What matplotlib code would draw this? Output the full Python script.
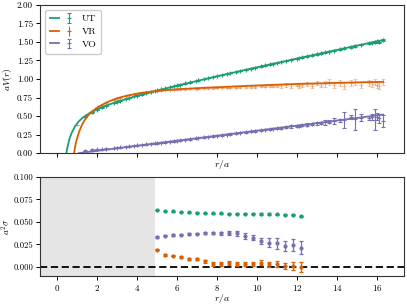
import matplotlib
matplotlib.use('Agg')
import matplotlib.pyplot as plt
from matplotlib.legend_handler import HandlerTuple

plt.rcParams.update({
    'font.family': 'serif',
    'font.serif': ['cmr10', 'DejaVu Serif'],
    'mathtext.fontset': 'cm',
    'axes.formatter.use_mathtext': True,
    'font.size': 6.5,
    'axes.linewidth': 0.8,
    'axes.edgecolor': '#333333',
    'xtick.direction': 'out',
    'ytick.direction': 'out',
    'xtick.major.size': 3,
    'ytick.major.size': 3,
    'xtick.major.width': 0.7,
    'ytick.major.width': 0.7,
})

GREEN = '#1b9e77'
ORANGE = '#d95f02'
PURPLE = '#7570b3'

# ---------------- top panel data ----------------
r_top = [1.0, 1.41, 1.73, 2.0, 2.24, 2.45, 2.83, 3.0, 3.16, 3.46, 3.61, 3.87, 4.0, 4.24,
         4.47, 4.69, 4.9, 5.0, 5.2, 5.39, 5.66, 5.83, 6.0, 6.16, 6.4, 6.63, 6.93, 7.07,
         7.35, 7.55, 7.81, 8.0, 8.25, 8.49, 8.66, 8.94, 9.17, 9.43, 9.7, 9.9, 10.2, 10.39,
         10.63, 10.82, 11.0, 11.2, 11.45, 11.7, 12.0, 12.12, 12.25, 12.5, 12.73, 13.0,
         13.2, 13.42, 13.6, 13.86, 14.14, 14.35, 14.7, 14.9, 15.2, 15.59, 15.75, 15.9,
         16.0, 16.1, 16.3]

ut_val = [0.375, 0.49, 0.548, 0.586, 0.617, 0.640, 0.678, 0.695, 0.709, 0.734, 0.746, 0.767,
          0.776, 0.793, 0.810, 0.826, 0.840, 0.847, 0.860, 0.873, 0.891, 0.902, 0.913, 0.925,
          0.940, 0.954, 0.973, 0.982, 1.000, 1.012, 1.027, 1.039, 1.054, 1.068, 1.079, 1.096,
          1.110, 1.125, 1.141, 1.153, 1.171, 1.183, 1.196, 1.207, 1.218, 1.229, 1.244, 1.259,
          1.276, 1.283, 1.291, 1.305, 1.319, 1.334, 1.346, 1.359, 1.370, 1.384, 1.400, 1.412,
          1.432, 1.443, 1.461, 1.483, 1.488, 1.500, 1.507, 1.495, 1.524]
ut_err = [0.003] * 30 + [0.004] * 20 + [0.006] * 10 + [0.009] * 9

vr_val = [0.38, 0.50, 0.57, 0.62, 0.64, 0.68, 0.72, 0.735, 0.75, 0.772, 0.782, 0.798,
          0.803, 0.812, 0.822, 0.830, 0.836, 0.842, 0.846, 0.850, 0.856, 0.858, 0.860, 0.862,
          0.864, 0.866, 0.868, 0.870, 0.872, 0.874, 0.876, 0.878, 0.880, 0.882, 0.884, 0.885,
          0.888, 0.890, 0.895, 0.892, 0.900, 0.898, 0.905, 0.902, 0.910, 0.905, 0.915, 0.908,
          0.925, 0.910, 0.920, 0.930, 0.905, 0.945, 0.915, 0.935, 0.960, 0.925, 0.950, 0.905,
          0.940, 0.960, 0.915, 0.945, 0.930, 0.960, 0.920, 0.900, 0.955]
vr_err = [0.004] * 20 + [0.006] * 15 + [0.012] * 10 + [0.025] * 10 + [0.04] * 14

vo_val = [0.035, 0.035, 0.045, 0.05, 0.055, 0.06, 0.07, 0.075, 0.08, 0.088, 0.092, 0.10,
          0.103, 0.11, 0.117, 0.124, 0.13, 0.133, 0.14, 0.146, 0.155, 0.161, 0.166, 0.172,
          0.18, 0.188, 0.198, 0.203, 0.212, 0.219, 0.228, 0.234, 0.243, 0.251, 0.257, 0.266,
          0.274, 0.283, 0.292, 0.299, 0.31, 0.316, 0.322, 0.33, 0.337, 0.343, 0.35, 0.36,
          0.365, 0.37, 0.375, 0.385, 0.39, 0.40, 0.41, 0.415, 0.42, 0.43, 0.44, 0.445,
          0.49, 0.455, 0.48, 0.47, 0.485, 0.45, 0.49, 0.47, 0.43]
vo_err = [0.005] * 30 + [0.008] * 15 + [0.015] * 10 + [0.03, 0.02, 0.04, 0.02, 0.11,
          0.03, 0.14, 0.05, 0.03, 0.04, 0.14, 0.05, 0.06, 0.08]

# fitted curves
ut_fit_r = [0.47, 0.52, 0.58, 0.65, 0.75, 0.9, 1.1, 1.3, 1.6, 2.0, 2.5, 3.0, 4.0, 5.0,
            6.0, 8.0, 10.0, 12.0, 14.0, 16.3]
ut_fit_v = [0.0, 0.07, 0.14, 0.21, 0.28, 0.36, 0.43, 0.48, 0.535, 0.59, 0.645, 0.692, 0.772,
            0.843, 0.910, 1.037, 1.158, 1.276, 1.393, 1.526]
vr_fit_r = [0.86, 0.9, 0.95, 1.0, 1.1, 1.25, 1.4, 1.6, 1.8, 2.1, 2.5, 3.0, 3.5, 4.15, 5.0,
            6.0, 7.5, 10.0, 12.0, 14.0, 16.3]
vr_fit_v = [0.0, 0.07, 0.14, 0.19, 0.28, 0.38, 0.45, 0.52, 0.57, 0.63, 0.685, 0.74, 0.775,
            0.81, 0.84, 0.862, 0.883, 0.913, 0.933, 0.948, 0.962]
vo_fit_r = [1.1, 2.0, 4.0, 6.0, 8.0, 10.0, 12.0, 14.0, 16.3]
vo_fit_v = [0.0, 0.03, 0.10, 0.167, 0.235, 0.303, 0.37, 0.44, 0.52]

# ---------------- bottom panel data ----------------
r_bot = [5.0, 5.4, 5.8, 6.2, 6.6, 7.0, 7.4, 7.8, 8.2, 8.6, 9.0, 9.4, 9.8, 10.2, 10.6,
         11.0, 11.4, 11.8, 12.2]
ut_sig = [0.0633, 0.0622, 0.0619, 0.0611, 0.0607, 0.0604, 0.0600, 0.0596, 0.0594, 0.0593,
          0.0592, 0.0590, 0.0589, 0.0588, 0.0588, 0.0587, 0.0582, 0.0580, 0.0561]
ut_sig_err = [0.0004, 0.0004, 0.0004, 0.0004, 0.0004, 0.0004, 0.0004, 0.0005, 0.0005,
              0.0005, 0.0005, 0.0005, 0.0005, 0.0006, 0.0006, 0.0006, 0.0007, 0.0008, 0.0009]
vo_sig = [0.0334, 0.0346, 0.0353, 0.0360, 0.0368, 0.0371, 0.0379, 0.0379, 0.0376, 0.0376,
          0.0376, 0.0342, 0.0327, 0.0293, 0.0271, 0.0264, 0.0234, 0.0245, 0.0215]
vo_sig_err = [0.0007, 0.0007, 0.0008, 0.0008, 0.0009, 0.0010, 0.0012, 0.0015, 0.0018,
              0.0020, 0.0028, 0.0033, 0.0028, 0.0033, 0.0053, 0.0060, 0.0060, 0.0070, 0.0073]
vr_sig = [0.0190, 0.0134, 0.0126, 0.0108, 0.0086, 0.0086, 0.0064, 0.0033, 0.0033, 0.0041,
          0.0037, 0.0033, 0.0033, 0.0048, 0.0030, 0.0033, 0.0015, 0.0011, -0.0003]
vr_sig_err = [0.0006, 0.0008, 0.0009, 0.0010, 0.0010, 0.0012, 0.0018, 0.0020, 0.0020,
              0.0022, 0.0022, 0.0022, 0.0022, 0.0025, 0.0030, 0.0030, 0.0035, 0.0045, 0.0054]

labels = ['UT', 'VR', 'VO']
x_ticks = [0, 2, 4, 6, 8, 10, 12, 14, 16]
top_yticks = [0.0, 0.25, 0.5, 0.75, 1.0, 1.25, 1.5, 1.75, 2.0]
bot_yticks = [0.0, 0.025, 0.05, 0.075, 0.1]
cut_r = 4.9

fig = plt.figure(figsize=(4.07, 3.05), dpi=100)
ax1 = fig.add_axes([0.098, 0.498, 0.895, 0.486])
ax2 = fig.add_axes([0.098, 0.095, 0.895, 0.325])

xlim = (-0.85, 17.35)

# top
e_ut = ax1.errorbar(r_top[1:], ut_val[1:], yerr=ut_err[1:], fmt='+', color=GREEN, ms=3,
                    mew=0.8, elinewidth=0.8, capsize=1.5, zorder=3)
e_vr = ax1.errorbar(r_top, vr_val, yerr=vr_err, fmt='+', color=ORANGE, ms=3, mew=0.8,
                    elinewidth=0.8, capsize=1.5, alpha=0.3, zorder=2)
e_vo = ax1.errorbar(r_top[1:], vo_val[1:], yerr=vo_err[1:], fmt='+', color=PURPLE, ms=3,
                    mew=0.8, elinewidth=0.8, capsize=1.5, zorder=3)
l_ut, = ax1.plot(ut_fit_r, ut_fit_v, color=GREEN, lw=1.3, zorder=4)
l_vr, = ax1.plot(vr_fit_r, vr_fit_v, color=ORANGE, lw=1.3, zorder=4)
l_vo, = ax1.plot(vo_fit_r, vo_fit_v, color=PURPLE, lw=1.3, zorder=4)

h_vr = ax1.errorbar([], [], yerr=[], fmt='+', color=ORANGE, ms=3, mew=0.8,
                    elinewidth=0.8, capsize=1.5)
ax1.legend([(l_ut, e_ut), (l_vr, h_vr), (l_vo, e_vo)], labels, loc='upper left',
           handler_map={tuple: HandlerTuple(ndivide=None)}, fontsize=7,
           handlelength=2.5, borderpad=0.5, labelspacing=0.4, framealpha=1,
           edgecolor='#cccccc', fancybox=True)

ax1.set_xlim(*xlim)
ax1.set_ylim(0, 2.0)
ax1.set_xticks(x_ticks)
ax1.set_xticklabels([])
ax1.set_yticks(top_yticks)
ax1.set_yticklabels(['%.2f' % v for v in top_yticks])
ax1.set_xlabel(r'$r/a$', fontsize=7)
ax1.set_ylabel(r'$aV(r)$', fontsize=7)
ax1.xaxis.set_label_coords(0.5, -0.03)
ax1.yaxis.set_label_coords(-0.072, 0.5)

# bottom
ax2.axvspan(xlim[0], cut_r, color='#e5e5e5', lw=0, zorder=0)
ax2.axhline(0, color='black', lw=1.3, ls=(0, (4, 2)), zorder=1)
for yv, ye, c in [(ut_sig, ut_sig_err, GREEN), (vo_sig, vo_sig_err, PURPLE),
                  (vr_sig, vr_sig_err, ORANGE)]:
    ax2.errorbar(r_bot, yv, yerr=ye, fmt='o', color=c, ms=2, elinewidth=0.9,
                 capsize=1.5, capthick=0.9, zorder=3)
ax2.set_xlim(*xlim)
ax2.set_ylim(-0.01, 0.1)
ax2.set_xticks(x_ticks)
ax2.set_yticks(bot_yticks)
ax2.set_yticklabels(['%.3f' % v for v in bot_yticks])
ax2.set_xlabel(r'$r/a$', fontsize=7)
ax2.set_ylabel(r'$a^2\sigma$', fontsize=6.8)
ax2.xaxis.set_label_coords(0.5, -0.16)
ax2.yaxis.set_label_coords(-0.074, 0.5)

for ax in (ax1, ax2):
    ax.tick_params(axis='both', labelsize=6.5, pad=2)
ax2.tick_params(axis='y', labelsize=6.2, pad=1.5)

fig.savefig('out.png', dpi=100)
